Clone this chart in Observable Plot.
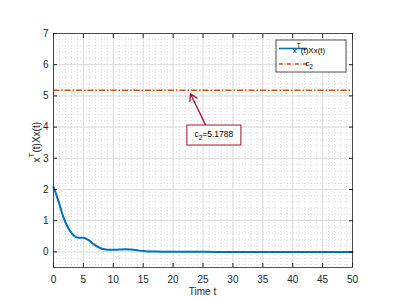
<!DOCTYPE html>
<html><head><meta charset="utf-8">
<script src="https://cdn.jsdelivr.net/npm/d3@7"></script>
<script src="https://cdn.jsdelivr.net/npm/@observablehq/plot@0.6"></script>
<style>body{margin:0;background:#fff;} svg{display:block;}</style>
</head><body><div id="chart"></div>
<script>
const timeT = [0,0.5,1,1.5,2,2.5,3,3.5,4,4.5,5,5.5,6,6.5,7,7.5,8,8.5,9,10,11,12,13,14,15,16,18,20,25,30,35,40,45,50];
const energy = [2.08,1.82,1.52,1.2,0.95,0.75,0.61,0.51,0.46,0.45,0.45,0.42,0.36,0.28,0.21,0.15,0.11,0.085,0.07,0.065,0.075,0.085,0.075,0.05,0.025,0.015,0.008,0.004,0.001,0,0,0,0,0];
const c2 = 5.1788;
const xMajor = [0,5,10,15,20,25,30,35,40,45,50];
const yMajor = [0,1,2,3,4,5,6,7];
const xMinor = d3.range(0,51,1);
const yMinor = d3.range(-0.4,7.001,0.2).map(d=>+d.toFixed(1));
const legendLabels = ["x", "T", "(t)Xx(t)"];
const annoText = ["c", "2", "=5.1788"];
const annoTip = {t: 22.9, v: 5.07};
const annoTail = {t: 25.4, v: 4.08};
const annoBox = {t: 26.9, v: 3.73};

const data = timeT.map((t,i)=>({t, v: energy[i]}));
const font = "Liberation Sans, Arial, sans-serif";
const ink = "#262626";
const blank = () => "";

const plot = Plot.plot({
  width: 399, height: 299,
  marginLeft: 53, marginRight: 47, marginTop: 33, marginBottom: 32,
  style: {fontFamily: font, fontSize: "10px", color: ink, background: "#fff"},
  x: {domain: [0,50]},
  y: {domain: [-0.5,7]},
  marks: [
    Plot.gridX(xMinor, {stroke: "#c8c8c8", strokeOpacity: 0.6, strokeDasharray: "1,2"}),
    Plot.gridY(yMinor, {stroke: "#c8c8c8", strokeOpacity: 0.6, strokeDasharray: "1,2"}),
    Plot.gridX(xMajor, {stroke: "#dcdcdc", strokeOpacity: 1}),
    Plot.gridY(yMajor, {stroke: "#dcdcdc", strokeOpacity: 1}),
    Plot.ruleY([c2], {stroke: "#D95319", strokeWidth: 1.6, strokeDasharray: "6,2,1.5,2"}),
    Plot.line(data, {x: "t", y: "v", stroke: "#0072BD", strokeWidth: 2, curve: "monotone-x"}),
    Plot.axisX(xMajor, {anchor: "bottom", tickSize: -4, tickPadding: 12, label: null, fill: ink, stroke: ink}),
    Plot.axisX(xMajor, {anchor: "top", tickSize: -4, tickFormat: blank, label: null, stroke: ink}),
    Plot.axisY(yMajor, {anchor: "left", tickSize: -4, tickPadding: 9, label: null, fill: ink, stroke: ink}),
    Plot.axisY(yMajor, {anchor: "right", tickSize: -4, tickFormat: blank, label: null, stroke: ink}),
    Plot.frame({stroke: ink, strokeWidth: 0.8}),
    Plot.arrow([0], {x1: () => annoTail.t, y1: () => annoTail.v, x2: () => annoTip.t, y2: () => annoTip.v, stroke: "#A2142F", strokeWidth: 1.3, headLength: 9})
  ]
});
document.getElementById("chart").append(plot);

const svg = d3.select(plot);
const sx = plot.scale("x"), sy = plot.scale("y");
// x label
svg.append("text").attr("x", (sx.apply(0)+sx.apply(50))/2).attr("y", 295)
  .attr("text-anchor","middle").attr("font-family",font).attr("font-size","10px").attr("fill",ink).text("Time t");
// y label
const yl = svg.append("text").attr("transform", `translate(40,${sy.apply(3.5)}) rotate(-90)`)
  .attr("text-anchor","middle").attr("font-family",font).attr("font-size","10px").attr("fill",ink);
yl.append("tspan").text(legendLabels[0]);
yl.append("tspan").attr("dy",-6).attr("font-size","8px").text(legendLabels[1]);
yl.append("tspan").attr("dy",6).text(legendLabels[2]);

// legend
const lg = svg.append("g").attr("transform","translate(276,40)");
lg.append("rect").attr("width",70).attr("height",32).attr("fill","#fff").attr("stroke",ink).attr("stroke-width",0.8);
lg.append("line").attr("x1",3).attr("x2",31).attr("y1",8.5).attr("y2",8.5).attr("stroke","#0072BD").attr("stroke-width",1.6);
lg.append("line").attr("x1",3).attr("x2",31).attr("y1",24).attr("y2",24).attr("stroke","#D95319").attr("stroke-width",1.4).attr("stroke-dasharray","4,1.5,1,1.5");
const t1 = lg.append("text").attr("x",33).attr("y",12.5).attr("font-family",font).attr("font-size","8px").attr("fill","#000");
t1.append("tspan").text(legendLabels[0]);
t1.append("tspan").attr("dy",-5).attr("font-size","6.5px").text(legendLabels[1]);
t1.append("tspan").attr("dy",5).text(legendLabels[2]);
const t2 = lg.append("text").attr("x",33).attr("y",26).attr("font-family",font).attr("font-size","8px").attr("fill","#000");
t2.append("tspan").text("c");
t2.append("tspan").attr("dy",3).attr("font-size","6.5px").text("2");

// annotation box
const bx = sx.apply(annoBox.t), by = sy.apply(annoBox.v);
svg.append("rect").attr("x",bx-27).attr("y",by-10).attr("width",54).attr("height",20)
  .attr("fill","#fff").attr("stroke","#A2142F").attr("stroke-width",1);
const at = svg.append("text").attr("x",bx).attr("y",by+2).attr("text-anchor","middle")
  .attr("font-family",font).attr("font-size","8.5px").attr("fill","#000");
at.append("tspan").text(annoText[0]);
at.append("tspan").attr("dy",3).attr("font-size","6.5px").text(annoText[1]);
at.append("tspan").attr("dy",-3).text(annoText[2]);
</script></body></html>
